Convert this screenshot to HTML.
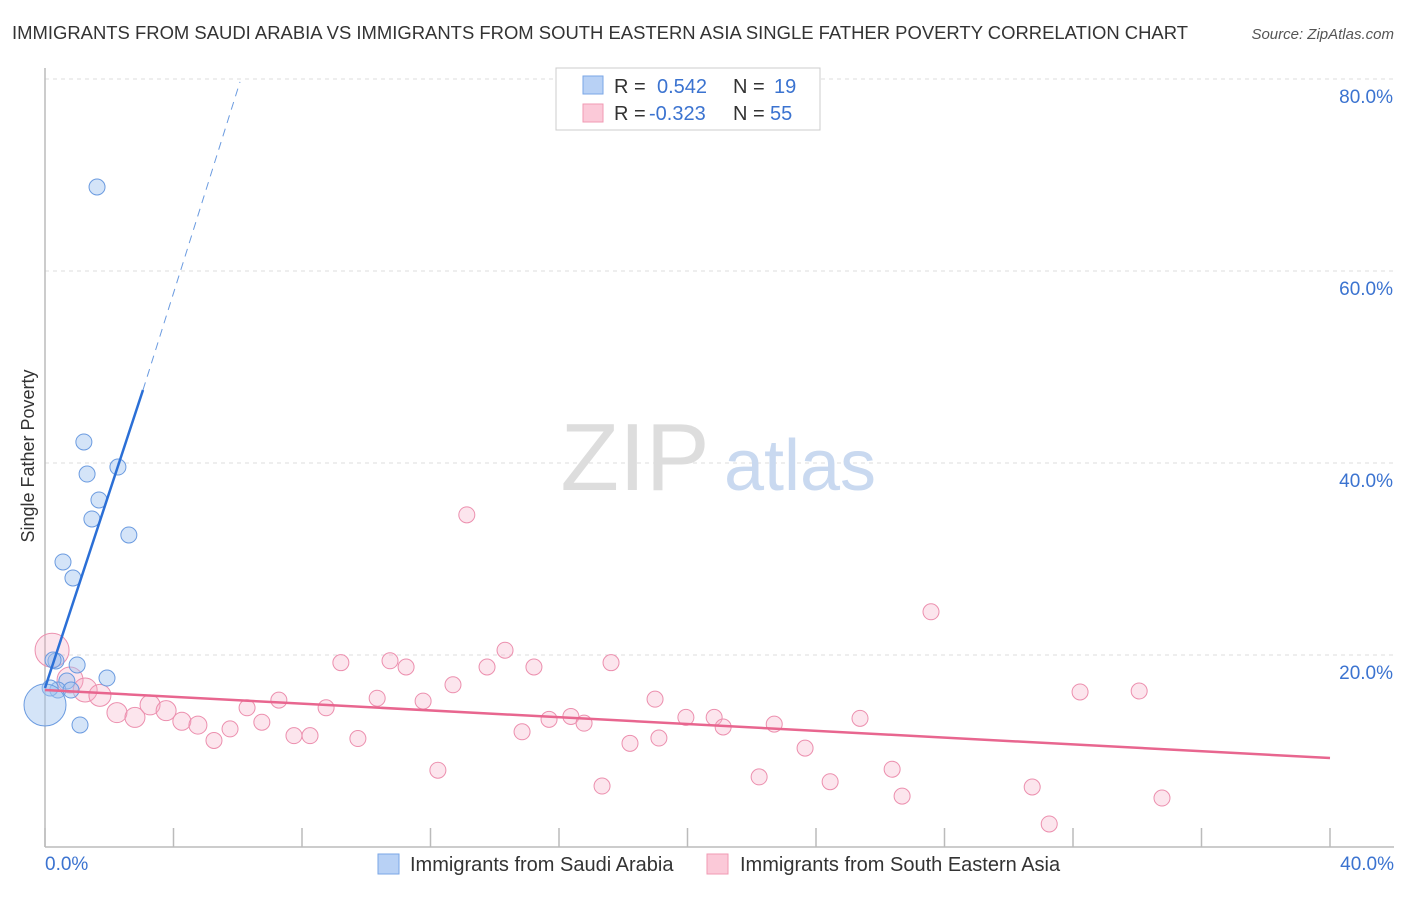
<!DOCTYPE html>
<html><head><meta charset="utf-8"><style>
body{margin:0;background:#fff;font-family:"Liberation Sans",sans-serif;}
svg text{font-family:"Liberation Sans",sans-serif;}
</style></head><body>
<svg width="1406" height="892" xmlns="http://www.w3.org/2000/svg">
<text x="12" y="39" font-size="18" fill="#333" textLength="1176" lengthAdjust="spacingAndGlyphs">IMMIGRANTS FROM SAUDI ARABIA VS IMMIGRANTS FROM SOUTH EASTERN ASIA SINGLE FATHER POVERTY CORRELATION CHART</text>
<text x="1394" y="39" font-size="15" fill="#555" font-style="italic" text-anchor="end">Source: ZipAtlas.com</text>
<g id="grid"></g>
<text x="635" y="490" font-size="96" fill="#ddd" font-family="Liberation Serif" text-anchor="middle">ZIP</text>
<text x="800" y="490" font-size="72" fill="#c9d9f0" text-anchor="middle">atlas</text>
<line x1="45" y1="68" x2="45" y2="847" stroke="#bbb" stroke-width="1.5"/>
<line x1="45" y1="847" x2="1394" y2="847" stroke="#bbb" stroke-width="1.5"/>
<g id="xticks"></g>
<g id="ylabels"></g>
<text x="45" y="870" font-size="19" fill="#3b73d0">0.0%</text>
<text x="1394" y="870" font-size="19" fill="#3b73d0" text-anchor="end">40.0%</text>
<text transform="translate(34,456) rotate(-90)" font-size="18" fill="#333" text-anchor="middle">Single Father Poverty</text>
<g id="pink"></g><g id="blue"></g><g id="lines"></g>
<g>
<rect x="556" y="68" width="264" height="62" fill="#fff" stroke="#ccc"/>
<rect x="583" y="76" width="20" height="18" fill="#b8d1f5" stroke="#7aa6e6"/>
<rect x="583" y="104" width="20" height="18" fill="#fbc9d8" stroke="#f09ab3"/>
<text x="614" y="93" font-size="20" fill="#333">R =</text>
<text x="657" y="93" font-size="20" fill="#3b73d0">0.542</text>
<text x="733" y="93" font-size="20" fill="#333">N =</text>
<text x="774" y="93" font-size="20" fill="#3b73d0">19</text>
<text x="614" y="120" font-size="20" fill="#333">R =</text>
<text x="649" y="120" font-size="20" fill="#3b73d0">-0.323</text>
<text x="733" y="120" font-size="20" fill="#333">N =</text>
<text x="770" y="120" font-size="20" fill="#3b73d0">55</text>
</g>
<g><rect x="378" y="854" width="21" height="20" fill="#b8d1f5" stroke="#7aa6e6"/><text x="410" y="871" font-size="20" fill="#333">Immigrants from Saudi Arabia</text></g>
<g><rect x="707" y="854" width="21" height="20" fill="#fbc9d8" stroke="#f09ab3"/><text x="740" y="871" font-size="20" fill="#333">Immigrants from South Eastern Asia</text></g>
</svg>
<script>
const blueX=[1.62,1.21,1.31,2.27,1.68,1.46,2.61,0.56,0.87,0.34,1.00,1.93,0.68,0.40,0.81,0.16,1.09,0,0.25];
const blueY=[68.75,42.19,38.85,39.58,36.15,34.17,32.5,29.69,28.02,19.38,18.96,17.6,17.29,16.35,16.35,16.56,12.71,14.79,19.48];
const blueR=[8,8,8,8,8,8,8,8,8,8,8,8,8,8,8,8,8,21,8];
const pinkX=[0.22,0.78,1.25,1.71,2.24,2.80,3.27,3.77,4.26,4.76,5.26,5.76,6.29,6.75,7.28,7.75,8.25,8.75,9.21,9.74,10.34,10.74,11.24,11.77,12.23,12.70,13.13,13.76,14.32,14.85,15.22,15.69,16.37,16.78,17.34,17.62,18.21,18.99,19.11,19.95,20.83,21.11,22.23,22.70,23.66,24.44,25.37,26.37,26.68,27.58,30.73,31.26,32.22,34.06,34.77];
const pinkY=[20.5,17.4,16.35,15.8,14.0,13.5,14.8,14.2,13.1,12.7,11.1,12.3,14.5,13.0,15.3,11.6,11.6,14.5,19.2,11.3,15.5,19.4,18.75,15.2,8.0,16.9,34.6,18.75,20.5,12.0,18.75,13.3,13.6,12.9,6.35,19.2,10.8,15.4,11.35,13.5,13.5,12.5,7.3,12.8,10.3,6.8,13.4,8.1,5.3,24.5,6.25,2.4,16.15,16.25,5.1];
const pinkR=[17,13,12,11,10,10,10,10,9,9,8,8,8,8,8,8,8,8,8,8,8,8,8,8,8,8,8,8,8,8,8,8,8,8,8,8,8,8,8,8,8,8,8,8,8,8,8,8,8,8,8,8,8,8,8];
const yTicks=[20,40,60,80];
const blueLine=[0,16.56,3.05,47.6,6.07,79.7];
const pinkLine=[0,16.35,40,9.27];
const sx=v=>45+v*1285/40, sy=v=>847-v*9.6;
const NS="http://www.w3.org/2000/svg";
function mk(p,t,a){const e=document.createElementNS(NS,t);for(const k in a)e.setAttribute(k,a[k]);document.getElementById(p).appendChild(e);return e;}
yTicks.forEach(t=>{
 const g=mk('grid','line',{x1:45,x2:1394,y1:sy(t),y2:sy(t),stroke:'#ddd','stroke-dasharray':'4,4'});
 
 
 const l=mk('ylabels','text',{x:1393,y:sy(t)+24,'font-size':19,fill:'#3b73d0','text-anchor':'end'});
 l.textContent=t.toFixed(1)+'%';
 
 
});
for(let i=0;i<=10;i++){
 const t=mk('xticks','line',{x1:sx(i*4),x2:sx(i*4),y1:828,y2:847,stroke:'#bbb','stroke-width':1.5});
 
 
}
pinkX.forEach((x,i)=>{
 const c=mk('pink','circle',{cx:sx(x),cy:sy(pinkY[i]),r:pinkR[i],fill:'rgba(246,170,195,0.3)',stroke:'#ec8fae','stroke-width':1});
 
 
});
blueX.forEach((x,i)=>{
 const c=mk('blue','circle',{cx:sx(x),cy:sy(blueY[i]),r:blueR[i],fill:'rgba(160,195,240,0.45)',stroke:'#6b9be0','stroke-width':1});
 
 
});
const b1=mk('lines','line',{x1:sx(blueLine[0]),y1:sy(blueLine[1]),x2:sx(blueLine[2]),y2:sy(blueLine[3]),stroke:'#2b6fd6','stroke-width':2.5});


const b2=mk('lines','line',{x1:sx(blueLine[2]),y1:sy(blueLine[3]),x2:sx(blueLine[4]),y2:sy(blueLine[5]),stroke:'#6b9be0','stroke-width':1,'stroke-dasharray':'8,6'});


const p1=mk('lines','line',{x1:sx(pinkLine[0]),y1:sy(pinkLine[1]),x2:sx(pinkLine[2]),y2:sy(pinkLine[3]),stroke:'#e8668f','stroke-width':2.5});


</script>
</body></html>
